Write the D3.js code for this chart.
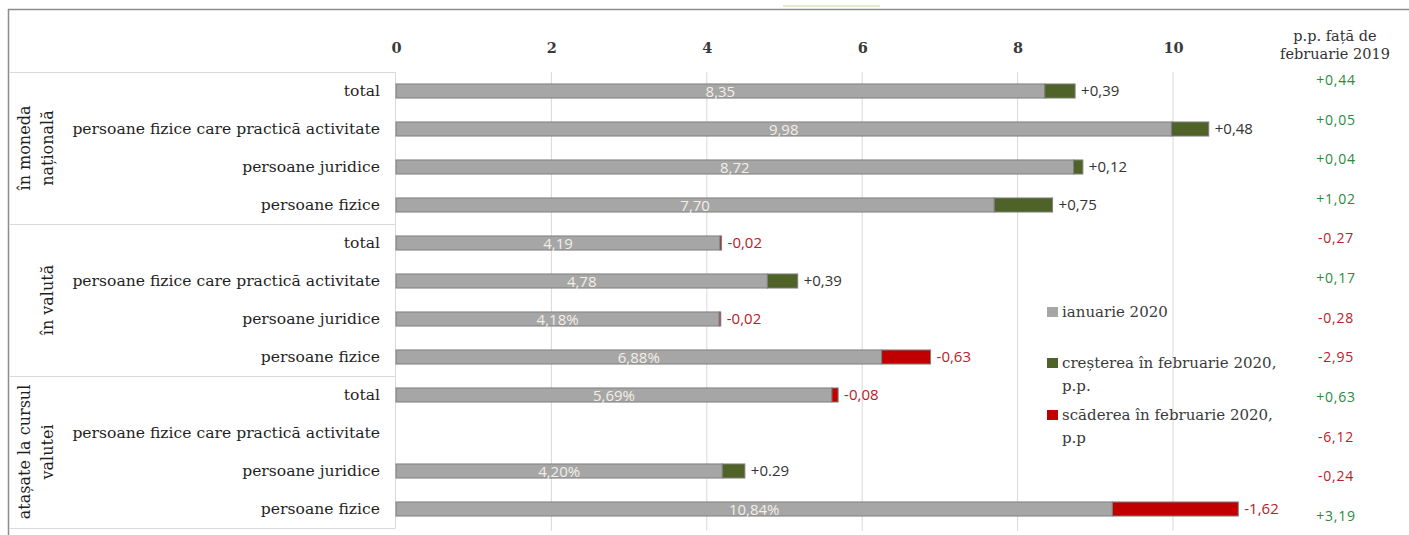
<!DOCTYPE html>
<html>
<head>
<meta charset="utf-8">
<script src="https://cdn.jsdelivr.net/npm/d3@7"></script>
<style>
  body { margin: 0; background: #fff; }
  svg { display: block; }
</style>
</head>
<body>
<svg id="chart" width="1409" height="535"></svg>
<script>
// groups of rows (rotated labels on the left)
var groups = ["în moneda națională", "în valută", "atașate la cursul valutei"];
var groupLines = [["în moneda", "națională"], ["", "în valută"], ["atașate la cursul", "valutei"]];

var categories = [
    "total", "persoane fizice care practică activitate", "persoane juridice", "persoane fizice",
    "total", "persoane fizice care practică activitate", "persoane juridice", "persoane fizice",
    "total", "persoane fizice care practică activitate", "persoane juridice", "persoane fizice"
];

// ianuarie 2020 level
var jan2020 = [8.35, 9.98, 8.72, 7.70, 4.19, 4.78, 4.18, 6.88, 5.69, null, 4.20, 10.84];
var janLabels = ["8,35", "9,98", "8,72", "7,70", "4,19", "4,78", "4,18%", "6,88%", "5,69%", "", "4,20%", "10,84%"];

// change in februarie 2020, p.p.
var febChange = [0.39, 0.48, 0.12, 0.75, -0.02, 0.39, -0.02, -0.63, -0.08, null, 0.29, -1.62];
var changeLabels = ["+0,39", "+0,48", "+0,12", "+0,75", "-0,02", "+0,39", "-0,02", "-0,63", "-0,08", "", "+0.29", "-1,62"];

// p.p. fata de februarie 2019
var yoyChange = [0.44, 0.05, 0.04, 1.02, -0.27, 0.17, -0.28, -2.95, 0.63, -6.12, -0.24, 3.19];

var xTicks = [0, 2, 4, 6, 8, 10];
var legendItems = [
    {key: "jan", lines: ["ianuarie 2020"]},
    {key: "up", lines: ["creșterea în februarie 2020,", "p.p."]},
    {key: "down", lines: ["scăderea în februarie 2020,", "p.p"]}
];

var COLORS = {jan: "#a6a6a6", up: "#4f6228", down: "#c00000"};
var SERIF = "'DejaVu Serif', serif";
var SANS = "'Open Sans', sans-serif";

var svg = d3.select("#chart");

var x = d3.scaleLinear().domain([0, 10]).range([396, 1173]);
var y = d3.scaleBand().domain(d3.range(categories.length)).range([72, 528]).paddingInner(0.63).paddingOuter(0.315);
var yRight = d3.scalePoint().domain(d3.range(yoyChange.length)).range([80, 516]);

var fmtPP = function(v) {
    var s = d3.format(".2f")(Math.abs(v)).replace(".", ",");
    return (v < 0 ? "-" : "+") + s;
};

// outer frame
svg.append("line").attr("x1", 8).attr("x2", 1409).attr("y1", 9.5).attr("y2", 9.5)
    .attr("stroke", "#8c8c8c").attr("stroke-width", 1.5);
svg.append("line").attr("x1", 8.5).attr("x2", 8.5).attr("y1", 9).attr("y2", 535)
    .attr("stroke", "#8c8c8c").attr("stroke-width", 1.5);
svg.append("line").attr("x1", 783).attr("x2", 880).attr("y1", 6).attr("y2", 6)
    .attr("stroke", "#d8e4bc").attr("stroke-width", 1.5);

// gridlines
svg.append("g").selectAll("line")
    .data(xTicks.slice(1))
    .enter().append("line")
    .attr("x1", function(d) { return x(d); })
    .attr("x2", function(d) { return x(d); })
    .attr("y1", 72).attr("y2", 531)
    .attr("stroke", "#d9d9d9").attr("stroke-width", 1);

// top axis labels
var xAxis = d3.axisTop(x).tickValues(xTicks).tickSize(0).tickPadding(0).tickFormat(d3.format("d"));
var axisG = svg.append("g").attr("transform", "translate(0,53)").call(xAxis);
axisG.select(".domain").remove();
axisG.selectAll("text")
    .attr("font-family", SERIF).attr("font-size", 14.5).attr("font-weight", "bold")
    .attr("fill", "#3a3a3a");

// label table on the left
var sepY = [72, 224, 376, 528];
svg.append("g").selectAll("line")
    .data(sepY)
    .enter().append("line")
    .attr("x1", 10).attr("x2", 395.5)
    .attr("y1", function(d) { return d + 0.5; })
    .attr("y2", function(d) { return d + 0.5; })
    .attr("stroke", "#d9d9d9");
svg.append("line").attr("x1", 395.5).attr("x2", 395.5).attr("y1", 72).attr("y2", 528)
    .attr("stroke", "#d9d9d9");

svg.append("g").selectAll("text")
    .data(categories)
    .enter().append("text")
    .attr("x", 380)
    .attr("y", function(d, i) { return y(i) + y.bandwidth() / 2; })
    .attr("dy", "0.35em")
    .attr("text-anchor", "end")
    .attr("font-family", SERIF).attr("font-size", 15.6)
    .attr("fill", "#1f1f1f")
    .text(function(d) { return d; });

var gl = svg.append("g").selectAll("g")
    .data(groupLines)
    .enter().append("g")
    .attr("transform", function(d, i) {
        var cy = (sepY[i] + sepY[i + 1]) / 2;
        return "translate(35," + cy + ") rotate(-90)";
    });
gl.selectAll("text")
    .data(function(d) { return d; })
    .enter().append("text")
    .attr("x", 0)
    .attr("y", function(d, j) { return j === 0 ? -5 : 18; })
    .attr("text-anchor", "middle")
    .attr("font-family", SERIF).attr("font-size", 16)
    .attr("fill", "#1f1f1f")
    .text(function(d) { return d; });

// bars
var rows = d3.range(categories.length).filter(function(i) { return jan2020[i] != null; });
var bh = y.bandwidth();

var barG = svg.append("g");
barG.selectAll("rect.jan")
    .data(rows)
    .enter().append("rect")
    .attr("class", "jan")
    .attr("x", x(0))
    .attr("y", function(i) { return y(i); })
    .attr("width", function(i) { return x(jan2020[i] + Math.min(febChange[i], 0)) - x(0); })
    .attr("height", bh)
    .attr("fill", COLORS.jan).attr("stroke", "#7f7f7f").attr("stroke-width", 1);

barG.selectAll("rect.chg")
    .data(rows)
    .enter().append("rect")
    .attr("class", "chg")
    .attr("x", function(i) { return x(jan2020[i] + Math.min(febChange[i], 0)); })
    .attr("y", function(i) { return y(i); })
    .attr("width", function(i) { return x(Math.abs(febChange[i])) - x(0); })
    .attr("height", bh)
    .attr("fill", function(i) { return febChange[i] >= 0 ? COLORS.up : COLORS.down; })
    .attr("stroke", "#7f7f7f").attr("stroke-width", 1);

// values inside the grey bars
barG.selectAll("text.val")
    .data(rows)
    .enter().append("text")
    .attr("class", "val")
    .attr("x", function(i) { return (x(0) + x(jan2020[i] + Math.min(febChange[i], 0))) / 2; })
    .attr("y", function(i) { return y(i) + bh / 2; })
    .attr("dy", "0.4em")
    .attr("text-anchor", "middle")
    .attr("font-family", SANS).attr("font-size", 15)
    .attr("fill", "#f2efe6")
    .text(function(i) { return janLabels[i]; });

// change labels after the bars
barG.selectAll("text.chg")
    .data(rows)
    .enter().append("text")
    .attr("class", "chg")
    .attr("x", function(i) { return x(Math.max(jan2020[i], jan2020[i] + febChange[i])) + 6; })
    .attr("y", function(i) { return y(i) + bh / 2; })
    .attr("dy", "0.35em")
    .attr("font-family", SANS).attr("font-size", 15)
    .attr("fill", function(i) { return febChange[i] >= 0 ? "#333333" : "#b8202a"; })
    .text(function(i) { return changeLabels[i]; });

// right column: p.p. fata de februarie 2019
svg.append("text")
    .attr("x", 1335).attr("y", 41)
    .attr("text-anchor", "middle")
    .attr("font-family", SERIF).attr("font-size", 14.5)
    .attr("fill", "#333333")
    .selectAll("tspan")
    .data(["p.p. față de", "februarie 2019"])
    .enter().append("tspan")
    .attr("x", 1335)
    .attr("dy", function(d, j) { return j === 0 ? 0 : 18; })
    .text(function(d) { return d; });

svg.append("g").selectAll("text")
    .data(yoyChange)
    .enter().append("text")
    .attr("x", 1336)
    .attr("y", function(d, i) { return yRight(i); })
    .attr("dy", "0.35em")
    .attr("text-anchor", "middle")
    .attr("font-family", SANS).attr("font-size", 14)
    .attr("letter-spacing", 0.8)
    .attr("fill", function(d) { return d >= 0 ? "#2a8a3e" : "#b8202a"; })
    .text(function(d) { return fmtPP(d); });

// legend
var legendY = [312, 363, 415];
var lg = svg.append("g").selectAll("g")
    .data(legendItems)
    .enter().append("g")
    .attr("transform", function(d, i) { return "translate(1047," + legendY[i] + ")"; });
lg.append("rect")
    .attr("x", 0).attr("y", -5).attr("width", 11).attr("height", 10)
    .attr("fill", function(d) { return COLORS[d.key]; });
lg.append("text")
    .attr("x", 15).attr("y", 0)
    .attr("font-family", SERIF).attr("font-size", 15)
    .attr("fill", "#3a3a3a")
    .selectAll("tspan")
    .data(function(d) { return d.lines; })
    .enter().append("tspan")
    .attr("x", 15)
    .attr("dy", function(d, j) { return j === 0 ? "0.35em" : 23; })
    .text(function(d) { return d; });
</script>
</body>
</html>
